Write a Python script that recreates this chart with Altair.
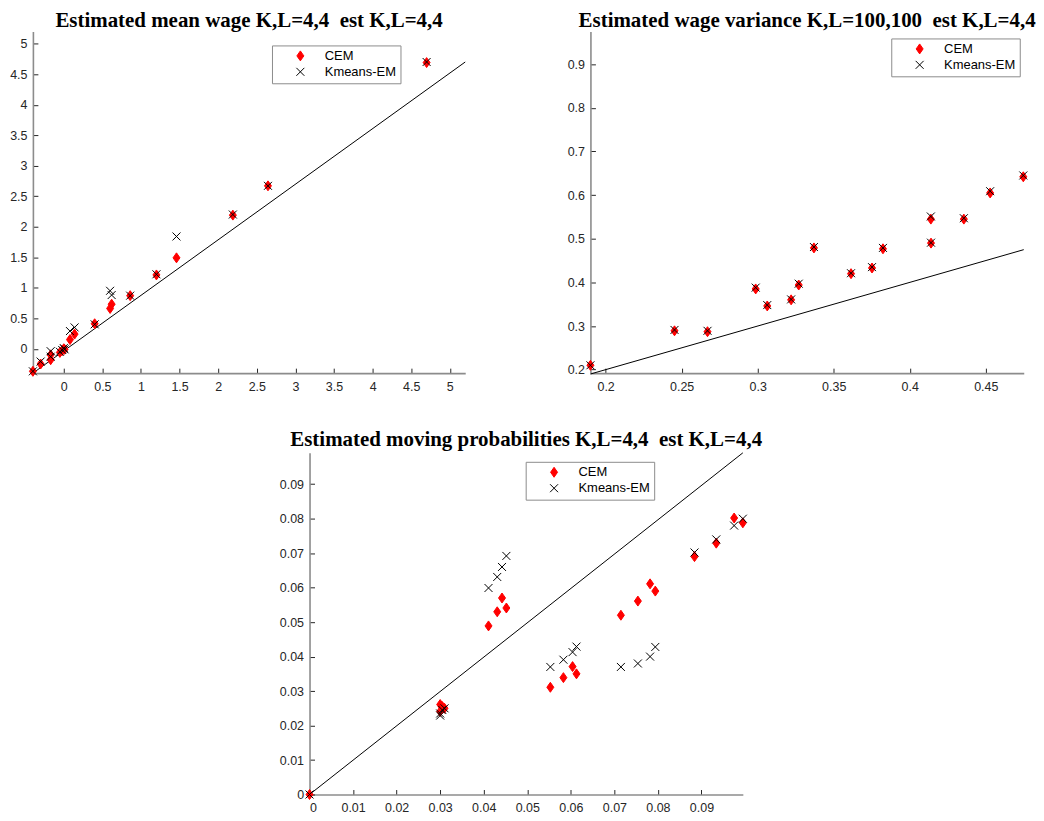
import altair as alt
import pandas as pd

# ---------------- data ----------------
# Panel 1: Estimated mean wage
x1 = [-0.40, -0.30, -0.17, -0.17, -0.05, -0.02, 0.00, 0.01, 0.08, 0.14, 0.40, 0.60, 0.62, 0.86, 1.20, 1.46, 2.19, 2.645, 4.70]
cem1 = [-0.37, -0.25, -0.18, -0.10, -0.06, -0.03, 0.00, -0.01, 0.15, 0.24, 0.41, 0.66, 0.73, 0.87, 1.21, 1.49, 2.19, 2.67, 4.69]
km1 = [-0.37, -0.21, -0.13, -0.04, -0.05, -0.02, 0.01, -0.01, 0.29, 0.35, 0.40, 0.95, 0.88, 0.87, 1.22, 1.84, 2.20, 2.67, 4.70]
line1_x = [-0.40, 5.20]
line1_y = [-0.40, 4.70]
dom1_x = [-0.40, 5.20]
dom1_y = [-0.40, 5.20]
ticks1 = [0, 0.5, 1, 1.5, 2, 2.5, 3, 3.5, 4, 4.5, 5]
title1 = "Estimated mean wage K,L=4,4\u00a0 est K,L=4,4"

# Panel 2: Estimated wage variance
x2 = [0.19, 0.2453, 0.267, 0.2987, 0.3063, 0.322, 0.327, 0.337, 0.3614, 0.3752, 0.3824, 0.4139, 0.414, 0.4356, 0.4529, 0.4747]
cem2 = [0.21, 0.289, 0.287, 0.385, 0.346, 0.360, 0.394, 0.479, 0.420, 0.433, 0.477, 0.545, 0.490, 0.545, 0.605, 0.642]
km2 = [0.21, 0.291, 0.289, 0.388, 0.348, 0.361, 0.397, 0.481, 0.421, 0.435, 0.479, 0.551, 0.491, 0.547, 0.609, 0.645]
line2_x = [0.19, 0.475]
line2_y = [0.19, 0.475]
dom2_x = [0.19, 0.475]
dom2_y = [0.192, 0.975]
ticks2_x = [0.2, 0.25, 0.3, 0.35, 0.4, 0.45]
ticks2_y = [0.2, 0.3, 0.4, 0.5, 0.6, 0.7, 0.8, 0.9]
title2 = "Estimated wage variance K,L=100,100\u00a0 est K,L=4,4"

# Panel 3: Estimated moving probabilities
x3 = [0.0, 0.030, 0.031, 0.030, 0.0305, 0.0411, 0.0431, 0.0442, 0.0452, 0.0553, 0.0583, 0.0604, 0.0613,
      0.0715, 0.0754, 0.0782, 0.0794, 0.0884, 0.0934, 0.0975, 0.0995]
cem3 = [0.0, 0.0261, 0.0250, 0.0241, 0.0255, 0.0489, 0.0530, 0.0570, 0.0541, 0.0311, 0.0339, 0.0371, 0.0350,
        0.0520, 0.0561, 0.0611, 0.0590, 0.0690, 0.0729, 0.0802, 0.0788]
km3 = [0.0, 0.0229, 0.0250, 0.0235, 0.0245, 0.0599, 0.0631, 0.0660, 0.0692, 0.0370, 0.0391, 0.0413, 0.0429,
       0.0370, 0.0380, 0.0400, 0.0428, 0.0702, 0.0740, 0.0780, 0.0800]
line3_x = [0.0, 0.0995]
line3_y = [0.0, 0.0991]
dom3_x = [0.0, 0.0995]
dom3_y = [0.0, 0.0991]
ticks3 = [0, 0.01, 0.02, 0.03, 0.04, 0.05, 0.06, 0.07, 0.08, 0.09]
title3 = "Estimated moving probabilities K,L=4,4\u00a0 est K,L=4,4"

series_names = ["CEM", "Kmeans-EM"]

# ---------------- styling ----------------
DIAMOND = "M0,-1L0.7,0L0,1L-0.7,0Z"
XMARK = "M-0.8,-0.8L0.8,0.8M-0.8,0.8L0.8,-0.8"
AXIS_GRAY = "#8c8c8c"
TEXT = "#262626"
W, H = 435, 343


def panel(x, cem, km, lx, ly, xdom, ydom, xt, yt, title, w, h, lgx, lgy):
    df = pd.DataFrame({
        "x": list(x) + list(x),
        "y": list(cem) + list(km),
        "series": [series_names[0]] * len(x) + [series_names[1]] * len(x),
        "ord": list(range(2 * len(x))),
    })
    ldf = pd.DataFrame({"x": lx, "y": ly})
    xs = alt.Scale(domain=xdom, nice=False, zero=False)
    ys = alt.Scale(domain=ydom, nice=False, zero=False)
    legend = alt.Legend(
        orient="none", legendX=lgx, legendY=lgy, title=None,
        strokeColor=AXIS_GRAY, fillColor="white", padding=4,
        symbolOffset=18, labelOffset=18, rowPadding=2,
        labelFont="Liberation Sans", labelFontSize=13, labelColor="#000000",
        symbolSize=100, symbolStrokeWidth=1,
    )
    line = alt.Chart(ldf).mark_line(color="black", strokeWidth=1).encode(
        x=alt.X("x:Q", scale=xs, axis=alt.Axis(orient="top", offset=-h, labels=False, domain=False,
                                                ticks=True, tickSize=5, values=xt, title=None, grid=False)),
        y=alt.Y("y:Q", scale=ys, axis=alt.Axis(orient="right", offset=-w, labels=False, domain=False,
                                                ticks=True, tickSize=5, values=yt, title=None, grid=False)),
    )
    pts = alt.Chart(df).mark_point(size=100, strokeWidth=1, opacity=1).encode(
        x=alt.X("x:Q", scale=xs, axis=alt.Axis(orient="bottom", values=xt, format="~g", ticks=False,
                                                grid=False, title=None, labelPadding=7)),
        y=alt.Y("y:Q", scale=ys, axis=alt.Axis(orient="left", values=yt, format="~g", ticks=False,
                                                grid=False, title=None, labelPadding=6)),
        shape=alt.Shape("series:N", scale=alt.Scale(domain=series_names, range=[DIAMOND, XMARK]), legend=legend),
        fill=alt.Fill("series:N", scale=alt.Scale(domain=series_names, range=["#ff0000", "transparent"]), legend=legend),
        stroke=alt.Stroke("series:N", scale=alt.Scale(domain=series_names, range=["#ff0000", "#000000"]), legend=legend),
        order=alt.Order("ord:Q"),
    )
    return (
        alt.layer(line, pts)
        .resolve_axis(x="independent", y="independent")
        .properties(width=w, height=h, title=alt.Title(title))
    )


p1 = panel(x1, cem1, km1, line1_x, line1_y, dom1_x, dom1_y, ticks1, ticks1, title1, 434, H, 240, 14)
p2 = panel(x2, cem2, km2, line2_x, line2_y, dom2_x, dom2_y, ticks2_x, ticks2_y, title2, W, H, 302, 7)
p3 = panel(x3, cem3, km3, line3_x, line3_y, dom3_x, dom3_y, ticks3, ticks3, title3, W, H, 217, 9)

# invisible spacer that pushes the bottom panel to the centre
spacer = alt.Chart(pd.DataFrame({"s": [0]})).mark_point(opacity=0).encode(
    x=alt.value(0), y=alt.value(0)
).properties(width=200, height=H)

ind = dict(shape="independent", fill="independent", stroke="independent")

top = alt.hconcat(p1, p2, spacing=125.7, bounds="flush").resolve_scale(**ind).resolve_legend(**ind)
bottom = alt.hconcat(spacer, p3, spacing=77.7, bounds="flush").resolve_scale(**ind).resolve_legend(**ind)
chart = (
    alt.vconcat(top, bottom, spacing=36)
    .resolve_scale(**ind)
    .resolve_legend(**ind)
    .properties(padding={"left": 1, "top": 0, "right": 0, "bottom": 0})
    .configure_view(stroke=None)
    .configure_axis(
        domainColor=AXIS_GRAY, domainWidth=1.6, tickColor=TEXT, tickWidth=1,
        labelFont="Liberation Sans", labelFontSize=12.5, labelColor=TEXT,
    )
    .configure_title(font="Liberation Serif", fontSize=21, fontWeight="bold", color="#000000",
                     anchor="middle", offset=1)
)

chart.save("out.html", embed_options={"renderer": "svg", "actions": False})
